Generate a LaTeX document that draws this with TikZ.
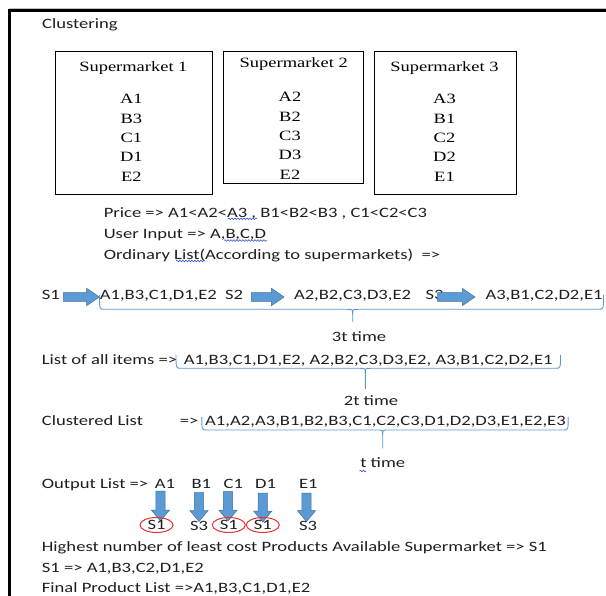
\documentclass[tikz,border=0pt]{standalone}
\usepackage{fontspec}
\setmainfont{Carlito}[FakeStretch=1.3]
\newfontfamily\tnr{Liberation Serif}[FakeStretch=1.3]
\usetikzlibrary{decorations.pathmorphing,shapes.geometric}
\definecolor{txt}{HTML}{1F1F1F}
\definecolor{arrfill}{HTML}{5B9BD5}
\definecolor{arredge}{HTML}{41719C}
\definecolor{spell}{HTML}{3355CC}
\definecolor{circ}{HTML}{E8312F}
\newcommand{\hblk}[3]{%
  \filldraw[blk] (#1,#3-4.3) -- (#2-12.7,#3-4.3) -- (#2-12.7,#3-8.7) -- (#2,#3) -- (#2-12.7,#3+8.7) -- (#2-12.7,#3+4.3) -- (#1,#3+4.3) -- cycle;}
\newcommand{\vblk}[3]{%
  \filldraw[blk] (#1-4.6,#2) -- (#1+4.6,#2) -- (#1+4.6,#3-11) -- (#1+9.2,#3-11) -- (#1,#3) -- (#1-9.2,#3-11) -- (#1-4.6,#3-11) -- cycle;}
\newcommand{\wbrace}[6]{%
  \draw[brc] (#1,#3) .. controls (#1,#4) .. (#1+5,#4) -- (#5-5,#4) .. controls (#5,#4) .. (#5,#4+5) -- (#5,#6);
  \draw[brc] (#2,#3) .. controls (#2,#4) .. (#2-5,#4) -- (#5+5,#4) .. controls (#5,#4) .. (#5,#4+5);}
\begin{document}
\begin{tikzpicture}[x=1pt,y=-1pt,
  lbl/.style={font=\fontsize{14.3}{17}\selectfont, text=txt, inner sep=0pt, anchor=base west},
  mid/.style={lbl, anchor=base},
  ser/.style={font=\tnr\fontsize{14.2}{17}\selectfont, text=black, inner sep=0pt, anchor=base},
  box/.style={draw=black, line width=0.9pt, inner sep=0pt},
  blk/.style={fill=arrfill, draw=arredge, line width=0.5pt},
  brc/.style={draw=arrfill, line width=0.9pt},
  spl/.style={draw=spell, line width=0.6pt, decorate, decoration={snake, amplitude=0.8pt, segment length=3pt}},
  oval/.style={ellipse, draw=circ, line width=1pt, minimum width=33pt, minimum height=15pt, inner sep=0pt, font=\fontsize{14.3}{17}\selectfont, text=txt}]
\useasboundingbox (0,0) rectangle (606,596);
\fill[white] (0,0) rectangle (606,596);
% frame
\draw[gray!50, line width=1.2pt] (9.2,8.2) -- (606,8.2);
\draw[black, line width=3pt] (9.2,596) -- (9.2,10.3) -- (606,10.3);

\node[lbl] (title) at (42,29) {Clustering};

% boxes
\node[box, minimum width=157.3pt, minimum height=142.3pt] (b1) at (133.95,122.85) {};
\node[box, minimum width=140pt, minimum height=132.3pt] (b2) at (293.4,117.15) {};
\node[box, minimum width=142.8pt, minimum height=142.3pt] (b3) at (445.4,122.85) {};

\node[ser] (t1) at (133.4,71.4) {Supermarket 1};
\node[ser] (a1) at (131.4,104) {A1};
\node[ser] (a2) at (131.4,123.7) {B3};
\node[ser] (a3) at (131.4,143) {C1};
\node[ser] (a4) at (131.4,161.4) {D1};
\node[ser] (a5) at (131.4,181.4) {E2};

\node[ser] (t2) at (293.8,68) {Supermarket 2};
\node[ser] (c1) at (290,101.4) {A2};
\node[ser] (c2) at (290,121.4) {B2};
\node[ser] (c3) at (290,140.7) {C3};
\node[ser] (c4) at (290,159.7) {D3};
\node[ser] (c5) at (290,179.7) {E2};

\node[ser] (t3) at (444.5,71.4) {Supermarket 3};
\node[ser] (d1) at (444.5,104) {A3};
\node[ser] (d2) at (444.5,123.7) {B1};
\node[ser] (d3) at (444.5,143) {C2};
\node[ser] (d4) at (444.5,161.4) {D2};
\node[ser] (d5) at (444.5,181.4) {E1};

% text lines
\node[lbl] (price) at (103.6,218) {Price => A1<A2<A3 , B1<B2<B3 , C1<C2<C3};
\node[lbl] (user) at (103.6,239) {User Input => A,B,C,D};
\node[lbl] (ord) at (103.6,259.7) {Ordinary List(According to supermarkets)~~=>};
\draw[spl] (228,218.8) -- (257,218.8);
\draw[spl] (224,240.5) -- (266.5,240.5);
\draw[spl] (176,261) -- (205,261);

% row of supermarkets
\node[lbl] (s1) at (41.7,300) {S1};
\node[lbl] (l1) at (99.7,300) {A1,B3,C1,D1,E2};
\node[lbl] (s2) at (225,300) {S2};
\node[lbl] (l2) at (293.8,300) {A2,B2,C3,D3,E2};
\node[lbl] (s3) at (425.5,300) {S3};
\node[lbl] (l3) at (485.3,300) {A3,B1,C2,D2,E1};
\hblk{63.3}{99.3}{297}
\hblk{251.3}{284.1}{297}
\hblk{437.5}{475}{297}
\wbrace{99.5}{603.5}{295}{309.3}{352.7}{322}
\node[mid] (t3t) at (359,341.8) {3t time};

\node[lbl] (all) at (41.7,364.5) {List of all items =>};
\node[lbl] (alll) at (183.6,364.5) {A1,B3,C1,D1,E2, A2,B2,C3,D3,E2, A3,B1,C2,D2,E1};
\wbrace{176}{560.5}{355}{368.3}{365.3}{389}
\node[mid] (t2t) at (371,405.2) {2t time};

\node[lbl] (cl) at (41.7,425.2) {Clustered List};
\node[lbl] (clar) at (179.7,425.2) {=>};
\node[lbl] (cll) at (204.9,425.2) {A1,A2,A3,B1,B2,B3,C1,C2,C3,D1,D2,D3,E1,E2,E3};
\wbrace{201.8}{568.2}{417}{430}{382.7}{448.3}
\node[mid] (tt) at (382.7,467.8) {t time};
\draw[spl] (359.5,471) -- (366,471);

% output list
\node[lbl] (out) at (41.7,488.5) {Output List =>};
\node[lbl] (o1) at (154.6,488.5) {A1};
\node[lbl] (o2) at (191.3,488.5) {B1};
\node[lbl] (o3) at (223.4,488.5) {C1};
\node[lbl] (o4) at (255,488.5) {D1};
\node[lbl] (o5) at (298.8,488.5) {E1};
\vblk{160.4}{491}{521}
\vblk{199}{492.5}{521.5}
\vblk{228}{491.5}{521}
\vblk{262.8}{493}{522}
\vblk{306.5}{493}{521.5}
\node[oval] (r1) at (156.5,525) {S1};
\node[mid] (r2) at (199,530.5) {S3};
\node[oval] (r3) at (228.8,525) {S1};
\node[oval] (r4) at (262.8,525) {S1};
\node[mid] (r5) at (308,530.5) {S3};

\node[lbl] (hi) at (41.7,551.8) {Highest number of least cost Products Available Supermarket => S1};
\node[lbl] (sel) at (41.7,572.8) {S1 => A1,B3,C2,D1,E2};
\node[lbl] (fin) at (41.7,592.8) {Final Product List =>A1,B3,C1,D1,E2};
\end{tikzpicture}
\end{document}
